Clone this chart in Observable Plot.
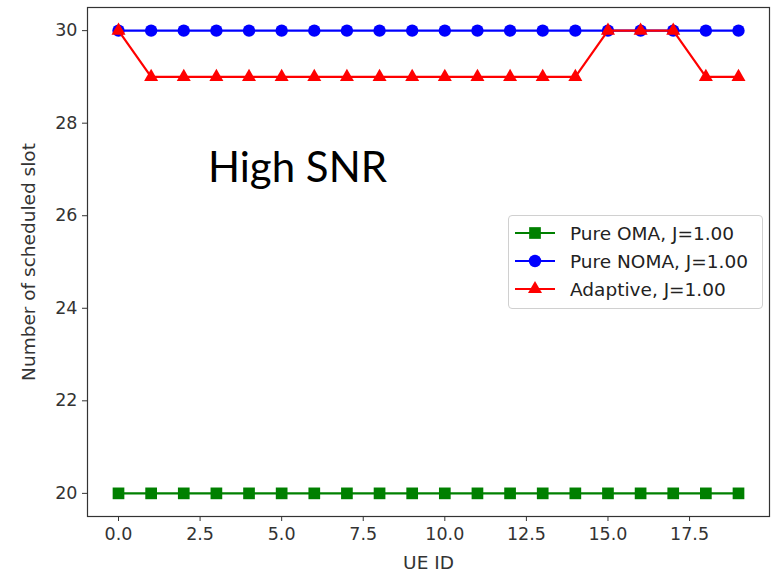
<!DOCTYPE html>
<html>
<head>
<meta charset="utf-8">
<script src="https://cdn.jsdelivr.net/npm/d3@7"></script>
<script src="https://cdn.jsdelivr.net/npm/@observablehq/plot@0.6"></script>
<style>
  html, body { margin: 0; padding: 0; background: #fff; }
  #wrap { position: relative; width: 771px; height: 577px; overflow: hidden; }
  #annot { position: absolute; left: 208px; top: 141px; font-family: Lato, "Open Sans", sans-serif; font-size: 42px; color: #000; white-space: nowrap; }
  #legend { position: absolute; left: 508px; top: 215px; width: 253px; height: 92px; border: 1px solid #d0d0d0; border-radius: 4px; background: rgba(255,255,255,0.85); font-family: "DejaVu Sans", sans-serif; font-size: 18.5px; color: #222; }
  .row { position: absolute; left: 4px; height: 20px; display: flex; align-items: center; white-space: nowrap; }
  .row svg { margin-right: 13px; }
</style>
</head>
<body>
<div id="wrap"></div>
<script>
const ueIds = [0,1,2,3,4,5,6,7,8,9,10,11,12,13,14,15,16,17,18,19];
const seriesNames = ["Pure OMA, J=1.00", "Pure NOMA, J=1.00", "Adaptive, J=1.00"];
const pureOMA =   [20,20,20,20,20,20,20,20,20,20,20,20,20,20,20,20,20,20,20,20];
const pureNOMA =  [30,30,30,30,30,30,30,30,30,30,30,30,30,30,30,30,30,30,30,30];
const adaptive =  [30,29,29,29,29,29,29,29,29,29,29,29,29,29,29,30,30,30,29,29];
const xTicks = [0, 2.5, 5, 7.5, 10, 12.5, 15, 17.5];
const yTicks = [20, 22, 24, 26, 28, 30];
const colors = ["#008000", "#0000ff", "#ff0000"];
const symbols = ["square", "circle", "triangle"];
const radii = [6.6, 6.2, 5.2];
const annotation = "High SNR";

const seriesValues = [pureOMA, pureNOMA, adaptive];
const data = [];
seriesValues.forEach((vals, s) => vals.forEach((v, i) => data.push({series: seriesNames[s], s, x: ueIds[i], y: v})));

const marks = [
  Plot.frame({stroke: "#333", strokeWidth: 1.2}),
  Plot.axisX({ticks: xTicks, tickFormat: d3.format(".1f"), tickSize: 5, tickPadding: 6, fontSize: 17.5, fill: "#333", stroke: "#333", label: null}),
  Plot.axisX({ticks: [], tickSize: 0, fontSize: 18.5, fill: "#333", label: "UE ID", labelAnchor: "center", labelOffset: 52, labelArrow: "none"}),
  Plot.axisY({ticks: yTicks, tickSize: 5, tickPadding: 5, fontSize: 17.5, fill: "#333", stroke: "#333", label: null}),
  Plot.axisY({ticks: [], tickSize: 0, fontSize: 18.5, fill: "#333", label: "Number of scheduled slot", labelAnchor: "center", labelOffset: 66, labelArrow: "none"})
];
seriesNames.forEach((name, s) => {
  const d = data.filter(p => p.s === s);
  marks.push(Plot.line(d, {x: "x", y: "y", stroke: colors[s], strokeWidth: 2.2}));
  marks.push(Plot.dot(d, {x: "x", y: "y", symbol: symbols[s], r: radii[s], fill: colors[s], stroke: "none"}));
});

const chart = Plot.plot({
  width: 771,
  height: 577,
  marginLeft: 87,
  marginRight: 2,
  marginTop: 7,
  marginBottom: 61,
  style: {fontFamily: "'DejaVu Sans', sans-serif", fontSize: "17.5px", color: "#333", background: "#fff"},
  x: {domain: [-0.95, 19.95]},
  y: {domain: [19.5, 30.5]},
  marks
});
const wrap = document.getElementById("wrap");
wrap.appendChild(chart);

const ann = document.createElement("div");
ann.id = "annot";
ann.textContent = annotation;
wrap.appendChild(ann);

const leg = document.createElement("div");
leg.id = "legend";
seriesNames.forEach((name, s) => {
  const row = document.createElement("div");
  row.className = "row";
  row.style.top = (7 + s * 28) + "px";
  const sym = d3.symbol(s === 0 ? d3.symbolSquare : s === 1 ? d3.symbolCircle : d3.symbolTriangle, Math.PI * radii[s] * radii[s])();
  row.innerHTML = `<svg width="44" height="20"><line x1="2" x2="42" y1="10" y2="10" stroke="${colors[s]}" stroke-width="2.2"/><path d="${sym}" transform="translate(22,10)" fill="${colors[s]}"/></svg><span>${name}</span>`;
  leg.appendChild(row);
});
wrap.appendChild(leg);
</script>
</body>
</html>
